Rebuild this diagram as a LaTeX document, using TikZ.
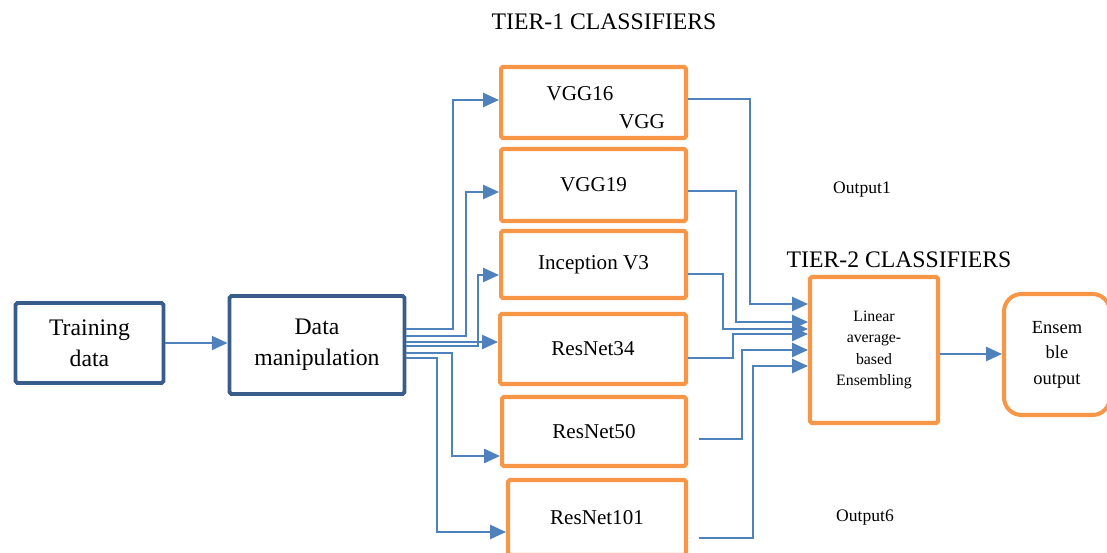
\documentclass[tikz,border=0pt]{standalone}
\usepackage{fontspec}
\setmainfont{Liberation Serif}
\usetikzlibrary{arrows.meta, calc, positioning}
\definecolor{TierOrange}{RGB}{247, 150, 70}
\definecolor{FlowBlue}{RGB}{79, 129, 189}
\definecolor{InputBlue}{RGB}{56, 93, 138}

\tikzset{
  inbox/.style={draw=InputBlue, line width=2.2pt, rounded corners=1pt, inner sep=0pt,
                align=center, font=\fontsize{13.5}{17.5}\selectfont},
  tierbox/.style={draw=TierOrange, line width=2.3pt, rounded corners=1pt, inner sep=0pt,
                  align=center, font=\fontsize{12}{14}\selectfont},
  conn/.style={draw=FlowBlue, line width=1.1pt, -{Triangle[length=9pt, width=8pt]}},
  wire/.style={draw=FlowBlue, line width=1.1pt}
}

\begin{document}
\begin{tikzpicture}[x=0.02cm, y=-0.02cm]
    % Fixed frame with the reference proportions
    \path[use as bounding box] (0,0) rectangle (1107,553);

    % Input side
    \node[inbox, minimum width=2.96cm, minimum height=1.6cm] (train) at (89.5,343) {Training\\data};
    \node[inbox, minimum width=3.5cm, minimum height=1.96cm] (manip) at (317,345) {Data\\manipulation};

    % Tier-1 classifiers
    \node[tierbox, minimum width=3.7cm, minimum height=1.42cm] (vgg16) at (593.5,102.5) {};
    \node[font=\fontsize{12}{14}\selectfont] (vgg16a) at (580,94) {VGG16};
    \node[font=\fontsize{12}{14}\selectfont] (vgg16b) at (642,122) {VGG};
    \node[tierbox, minimum width=3.7cm, minimum height=1.44cm] (vgg19) at (593.5,185) {VGG19};
    \node[tierbox, minimum width=3.7cm, minimum height=1.34cm] (incep) at (593.5,264.5) {Inception V3};
    \node[tierbox, minimum width=3.72cm, minimum height=1.4cm] (res34) at (593,349) {ResNet34};
    \node[tierbox, minimum width=3.68cm, minimum height=1.38cm] (res50) at (594,431.5) {ResNet50};
    \node[tierbox, minimum width=3.56cm, minimum height=1.5cm] (res101) at (597,517.5) {ResNet101};

    % Tier-2 classifier and result
    \node[tierbox, minimum width=2.56cm, minimum height=2.92cm, font=\fontsize{9}{12.3}\selectfont]
        (ens) at (874,350) {Linear\\average-\\based\\Ensembling};
    \node[tierbox, minimum width=2.12cm, minimum height=2.42cm, rounded corners=10pt,
          font=\fontsize{10.5}{14.5}\selectfont] (out) at (1057,354.5) {Ensem\\ble\\output};

    % Headings and labels
    \node[font=\fontsize{13.5}{16}\selectfont] (tier1) at (604,22) {TIER-1 CLASSIFIERS};
    \node[font=\fontsize{13.5}{16}\selectfont] (tier2) at (899,260) {TIER-2 CLASSIFIERS};
    \node[font=\fontsize{10}{12}\selectfont] (out1) at (862,190) {Output1};
    \node[font=\fontsize{10}{12}\selectfont] (out6) at (865,518) {Output6};

    % Training data to data manipulation
    \draw[conn] (train.east) -- (manip.west |- train.east);

    % Data manipulation fan-out to tier-1
    \draw[conn] (manip.east |- 0,329) -- (453,329) |- (vgg16.west |- 0,100);
    \draw[conn] (manip.east |- 0,336) -- (466,336) |- (vgg19.west |- 0,192);
    \draw[conn] (manip.east |- 0,346) -- (478,346) |- (incep.west |- 0,275);
    \draw[conn] (manip.east |- 0,342) -- (res34.west |- 0,342);
    \draw[conn] (manip.east |- 0,353) -- (452,353) |- (res50.west |- 0,456);
    \draw[conn] (manip.east |- 0,358) -- (437,358) |- (res101.west |- 0,532);

    % Tier-1 outputs into the ensembling box
    \draw[conn] (vgg16.east |- 0,99) -| (750,304) -- (ens.west |- 0,304);
    \draw[conn] (vgg19.east |- 0,191) -| (736,322) -- (ens.west |- 0,322);
    \draw[conn] (incep.east |- 0,274) -| (723,329) -- (ens.west |- 0,329);
    \draw[conn] (res34.east |- 0,358) -| (733,334) -- (ens.west |- 0,334);
    \draw[conn] ($(res50.east)+(11,7.5)$) -| (742,350) -- (ens.west |- 0,350);
    \draw[conn] ($(res101.east)+(11,20.5)$) -| (753,366) -- (ens.west |- 0,366);

    % Ensembling to final output
    \draw[conn] (ens.east |- 0,354) -- (out.west |- 0,354);
\end{tikzpicture}
\end{document}
